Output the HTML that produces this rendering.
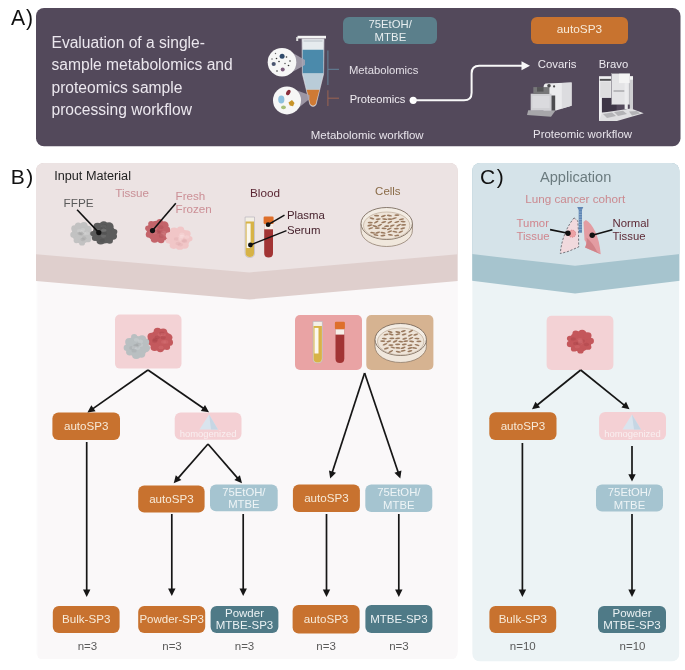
<!DOCTYPE html>
<html><head><meta charset="utf-8"><style>
html,body{margin:0;padding:0;background:#fff;width:685px;height:670px;overflow:hidden}
svg{display:block;will-change:transform}
text{font-family:"Liberation Sans", sans-serif}
</style></head><body>
<svg width="685" height="670" viewBox="0 0 685 670">
<rect x="36" y="8" width="644.50" height="138.30" rx="8" fill="#53495b" />
<text x="11" y="24.8" font-size="21.2" fill="#111" text-anchor="start" >A</text>
<text x="26" y="24.8" font-size="21.2" fill="#111" text-anchor="start" >)</text>
<text x="51.5" y="47.9" font-size="15.6" fill="#ebe7ee" text-anchor="start" >Evaluation of a single-</text>
<text x="51.5" y="70.3" font-size="15.6" fill="#ebe7ee" text-anchor="start" >sample metabolomics and</text>
<text x="51.5" y="92.8" font-size="15.6" fill="#ebe7ee" text-anchor="start" >proteomics sample</text>
<text x="51.5" y="115.2" font-size="15.6" fill="#ebe7ee" text-anchor="start" >processing workflow</text>
<rect x="343" y="17" width="94.00" height="27.00" rx="6" fill="#5b7f8b" />
<text x="368.5" y="27.8" font-size="11.3" fill="#e8eef0" text-anchor="start" >75EtOH/</text>
<text x="374.6" y="41" font-size="11.4" fill="#e8eef0" text-anchor="start" >MTBE</text>
<rect x="531" y="17" width="97.00" height="27.00" rx="6" fill="#c8732f" />
<text x="556.8" y="32.9" font-size="11.8" fill="#f7ead8" text-anchor="start" >autoSP3</text>
<path d="M302,39 L324,39 L323.6,74 L316,104.8 Q313,108 310,104.8 L302.4,74 Z" fill="#e6ebee" stroke="#c9c5cf" stroke-width="0.7"/>
<path d="M297.5,38.5 L297.5,35.8 L326,35.8 L326,38.5 Z" fill="#f4f4f4"/>
<rect x="296.2" y="37" width="2" height="4" fill="#d9d9d9"/>
<rect x="303.5" y="40" width="19" height="2" fill="#cfd5da"/>
<path d="M302.6,49.7 L323.4,49.7 L323.3,73.6 L302.8,73.6 Z" fill="#4b8aab"/>
<path d="M302.8,73.6 L323.3,73.6 L319.4,89.7 L306.7,89.7 Z" fill="#b9ccd8"/>
<path d="M306.7,89.7 L319.4,89.7 L315.7,104.3 Q313,107 310.3,104.3 Z" fill="#cf7a34"/>
<path d="M285,48.5 L305,60 L305,65 L285,76 Z" fill="#a9a3b2" opacity="0.85"/>
<circle cx="282" cy="62.2" r="14.3" fill="#f6f6f6"/>
<circle cx="282.1" cy="56.3" r="2.5" fill="#2f4a6b"/>
<circle cx="273.7" cy="64" r="2.1" fill="#4a5570"/>
<circle cx="282.7" cy="69.4" r="2" fill="#7b5b7b"/>
<circle cx="276.5" cy="58.5" r="0.8" fill="#333"/>
<circle cx="286.5" cy="57" r="0.8" fill="#333"/>
<circle cx="290" cy="61" r="0.8" fill="#333"/>
<circle cx="279" cy="61.5" r="0.8" fill="#333"/>
<circle cx="288.5" cy="65.5" r="0.8" fill="#333"/>
<circle cx="277" cy="71" r="0.8" fill="#333"/>
<circle cx="272" cy="59" r="0.7" fill="#555"/>
<circle cx="285" cy="63.5" r="0.7" fill="#444"/>
<circle cx="275.5" cy="53.5" r="0.7" fill="#666"/>
<path d="M290,88 L309.5,95 L309.5,99 L292,113 Z" fill="#a9a3b2" opacity="0.85"/>
<circle cx="287" cy="100.4" r="14" fill="#f6f6f6"/>
<ellipse cx="281.3" cy="99.5" rx="3.1" ry="4" fill="#8cc0de"/>
<ellipse cx="288.3" cy="92.5" rx="1.9" ry="3" fill="#8a2f3c" transform="rotate(30 288.3 92.5)"/>
<path d="M288.5,102.5 l3.5,-2.5 l2.5,3 l-1.5,3.2 l-3.2,-0.8 Z" fill="#c8942a"/>
<ellipse cx="283.5" cy="107.3" rx="2.4" ry="1.9" fill="#a6bf78"/>
<line x1="327.9" y1="50.5" x2="327.9" y2="85" stroke="#63849a" stroke-width="1.0" />
<line x1="327.9" y1="69.3" x2="339" y2="69.3" stroke="#63849a" stroke-width="1.0" />
<line x1="327.9" y1="90.3" x2="327.9" y2="106" stroke="#9d6552" stroke-width="1.0" />
<line x1="327.9" y1="98.2" x2="339" y2="98.2" stroke="#9d6552" stroke-width="1.0" />
<text x="348.9" y="74" font-size="11.27" fill="#e3dfe6" text-anchor="start" >Metabolomics</text>
<text x="349.7" y="102.9" font-size="11.14" fill="#f0edf2" text-anchor="start" >Proteomics</text>
<circle cx="413.2" cy="100.3" r="3.6" fill="#ffffff"/>
<path d="M413,100.3 L464,100.3 Q471.6,100.3 471.6,92.7 L471.6,73.4 Q471.6,65.8 479.2,65.8 L523,65.8" fill="none" stroke="#f8f8f8" stroke-width="2"/>
<path d="M530,65.8 L521.5,61.3 L521.5,70.3 Z" fill="#f8f8f8"/>
<text x="537.8" y="67.9" font-size="11.38" fill="#ece9ef" text-anchor="start" >Covaris</text>
<text x="598.8" y="68" font-size="11.25" fill="#ece9ef" text-anchor="start" >Bravo</text>
<text x="310.8" y="138.6" font-size="11.48" fill="#e8e4eb" text-anchor="start" >Metabolomic workflow</text>
<text x="533.1" y="138.4" font-size="11.41" fill="#e8e4eb" text-anchor="start" >Proteomic workflow</text>
<path d="M528.2,110.3 L555.5,110.5 L551,116.8 L527,115 Z" fill="#a7a6aa"/>
<path d="M545.5,83.5 Q543.5,84 543.5,87 L543.5,110.5 L556,110.5 L571.6,105.7 L571.6,82.4 Z" fill="#ebebed"/>
<path d="M561.8,83 L571.6,82.4 L571.6,105.7 L561.8,108.5 Z" fill="#dcdcdf"/>
<rect x="530.7" y="93.7" width="20.8" height="16.8" fill="#d0d0d4"/>
<rect x="532.5" y="96" width="17" height="12" fill="#dcdce0" opacity="0.8"/>
<rect x="533.3" y="87.1" width="16.1" height="6.9" fill="#777779"/>
<rect x="537" y="87.1" width="6.5" height="4.5" fill="#555557"/>
<rect x="551.5" y="95.5" width="3.7" height="15" fill="#4d4d50"/>
<circle cx="549" cy="85.7" r="1.8" fill="#4a4a4c"/><circle cx="554.1" cy="86.4" r="1.1" fill="#4a4a4c"/>
<rect x="599" y="76.2" width="12.3" height="44.7" fill="#efeff1"/>
<rect x="599.8" y="78.9" width="11.1" height="1.9" fill="#505052"/>
<rect x="600.2" y="81.5" width="10.5" height="16" fill="#dededf"/>
<rect x="601.9" y="97.9" width="14.7" height="14.8" fill="#3e3646"/>
<rect x="611.7" y="73.7" width="18.1" height="30.8" fill="#e4e4e6" stroke="#a9a9ad" stroke-width="0.4"/>
<rect x="619.1" y="73.7" width="10.7" height="9.4" fill="#f4f4f4"/>
<rect x="613.5" y="90.6" width="11" height="0.8" fill="#77777a"/>
<rect x="624.6" y="83" width="3.2" height="26" fill="#ececee"/>
<rect x="629.8" y="76.6" width="3.2" height="39.4" fill="#cfcfd2"/>
<rect x="629.8" y="76.2" width="3.2" height="3.5" fill="#f4f4f4"/>
<path d="M601.9,112.7 L631,108.6 L643.7,113.3 L617,120.9 L599,120.9 Z" fill="#dfdfe1"/>
<path d="M603,114 L612,112.5 L616,116 L607,118 Z" fill="#b3b3b6"/>
<path d="M614,112 L623,110.8 L627,114 L618,116 Z" fill="#b3b3b6"/>
<path d="M629,111.5 L637,111 L640,113.5 L632,115.5 Z" fill="#b3b3b6"/>
<clipPath id="cpB"><rect x="36" y="163" width="421.8" height="497" rx="8"/></clipPath>
<g clip-path="url(#cpB)">
<rect x="36" y="163" width="421.8" height="496" fill="#fdfdfd"/>
<rect x="37.5" y="163" width="420.3" height="496" fill="#faf8f9"/>
<path d="M36,163 L457.8,163 L457.8,281 L249.5,299.5 L36,281 Z" fill="#dfcfcd"/>
<path d="M36,163 L457.8,163 L457.8,254.2 L249.5,272.4 L36,254.2 Z" fill="#ece3e3"/>
</g>
<text x="10.7" y="183.8" font-size="21" fill="#111" text-anchor="start" >B</text>
<text x="26.3" y="183.8" font-size="21" fill="#111" text-anchor="start" >)</text>
<text x="54.2" y="180" font-size="12.68" fill="#222" text-anchor="start" >Input Material</text>
<text x="63.6" y="206.9" font-size="11.76" fill="#5a5a5a" text-anchor="start" >FFPE</text>
<text x="115.3" y="196.5" font-size="11.58" fill="#c98f96" text-anchor="start" >Tissue</text>
<text x="175.6" y="200" font-size="11.63" fill="#cc8f96" text-anchor="start" >Fresh</text>
<text x="175.6" y="212.9" font-size="11.63" fill="#cc8f96" text-anchor="start" >Frozen</text>
<text x="250" y="196.8" font-size="11.74" fill="#5b2633" text-anchor="start" >Blood</text>
<text x="286.9" y="219.2" font-size="11.39" fill="#47222d" text-anchor="start" >Plasma</text>
<text x="286.9" y="233.9" font-size="11.39" fill="#47222d" text-anchor="start" >Serum</text>
<text x="375.1" y="195.3" font-size="11.47" fill="#8a6b47" text-anchor="start" >Cells</text>
<g fill="#c2c2c2"><ellipse cx="81.50" cy="233.50" rx="9.66" ry="10.08"/><ellipse cx="82.04" cy="242.38" rx="3.04" ry="3.17"/><ellipse cx="76.27" cy="240.55" rx="2.62" ry="2.73"/><ellipse cx="73.17" cy="234.81" rx="2.89" ry="3.01"/><ellipse cx="74.42" cy="228.49" rx="3.18" ry="3.32"/><ellipse cx="78.21" cy="226.07" rx="3.41" ry="3.56"/><ellipse cx="83.90" cy="225.77" rx="3.73" ry="3.89"/><ellipse cx="88.19" cy="229.43" rx="3.46" ry="3.61"/><ellipse cx="89.39" cy="234.96" rx="3.35" ry="3.49"/><ellipse cx="87.65" cy="238.43" rx="3.72" ry="3.89"/></g>
<ellipse cx="84.13" cy="238.13" rx="2.30" ry="1.80" fill="#9a9a9a" opacity="0.3"/>
<ellipse cx="79.13" cy="230.70" rx="2.30" ry="1.80" fill="#dedede" opacity="0.3"/>
<ellipse cx="82.76" cy="239.54" rx="2.30" ry="1.80" fill="#9a9a9a" opacity="0.3"/>
<ellipse cx="82.85" cy="229.76" rx="2.30" ry="1.80" fill="#dedede" opacity="0.3"/>
<ellipse cx="79.74" cy="233.44" rx="2.30" ry="1.80" fill="#9a9a9a" opacity="0.3"/>
<ellipse cx="84.27" cy="233.56" rx="2.30" ry="1.80" fill="#dedede" opacity="0.3"/>
<ellipse cx="81.05" cy="233.22" rx="2.30" ry="1.80" fill="#9a9a9a" opacity="0.3"/>
<ellipse cx="81.97" cy="231.76" rx="2.30" ry="1.80" fill="#dedede" opacity="0.3"/>
<ellipse cx="81.53" cy="233.83" rx="2.30" ry="1.80" fill="#9a9a9a" opacity="0.3"/>
<ellipse cx="87.02" cy="233.39" rx="2.30" ry="1.80" fill="#dedede" opacity="0.3"/>
<g fill="#5c5c5c"><ellipse cx="104.00" cy="233.20" rx="11.34" ry="10.25"/><ellipse cx="97.61" cy="226.72" rx="4.26" ry="3.85"/><ellipse cx="103.74" cy="225.38" rx="4.46" ry="4.03"/><ellipse cx="109.04" cy="226.33" rx="4.50" ry="4.07"/><ellipse cx="114.20" cy="231.74" rx="3.15" ry="2.85"/><ellipse cx="113.14" cy="236.17" rx="3.85" ry="3.48"/><ellipse cx="109.63" cy="240.67" rx="3.32" ry="3.00"/><ellipse cx="100.73" cy="240.79" rx="4.21" ry="3.81"/><ellipse cx="95.06" cy="238.01" rx="3.19" ry="2.89"/><ellipse cx="93.18" cy="233.59" rx="2.97" ry="2.69"/></g>
<ellipse cx="97.72" cy="231.42" rx="2.70" ry="1.83" fill="#444" opacity="0.3"/>
<ellipse cx="103.85" cy="226.34" rx="2.70" ry="1.83" fill="#8a8a8a" opacity="0.3"/>
<ellipse cx="102.11" cy="240.66" rx="2.70" ry="1.83" fill="#444" opacity="0.3"/>
<ellipse cx="98.01" cy="230.80" rx="2.70" ry="1.83" fill="#8a8a8a" opacity="0.3"/>
<ellipse cx="104.23" cy="225.83" rx="2.70" ry="1.83" fill="#444" opacity="0.3"/>
<ellipse cx="103.52" cy="236.07" rx="2.70" ry="1.83" fill="#8a8a8a" opacity="0.3"/>
<ellipse cx="102.94" cy="228.66" rx="2.70" ry="1.83" fill="#444" opacity="0.3"/>
<ellipse cx="104.00" cy="230.31" rx="2.70" ry="1.83" fill="#8a8a8a" opacity="0.3"/>
<ellipse cx="104.09" cy="233.17" rx="2.70" ry="1.83" fill="#444" opacity="0.3"/>
<ellipse cx="103.41" cy="230.28" rx="2.70" ry="1.83" fill="#8a8a8a" opacity="0.3"/>
<line x1="77.1" y1="209.8" x2="98.8" y2="232.6" stroke="#111" stroke-width="1.6" />
<circle cx="98.8" cy="232.6" r="2.6" fill="#111"/>
<g fill="#c4646a"><ellipse cx="157.70" cy="231.00" rx="10.92" ry="10.50"/><ellipse cx="154.62" cy="238.92" rx="3.88" ry="3.73"/><ellipse cx="149.20" cy="234.45" rx="3.43" ry="3.30"/><ellipse cx="148.09" cy="228.24" rx="2.92" ry="2.81"/><ellipse cx="151.20" cy="223.77" rx="3.00" ry="2.89"/><ellipse cx="159.75" cy="221.85" rx="3.05" ry="2.94"/><ellipse cx="164.25" cy="225.47" rx="4.34" ry="4.17"/><ellipse cx="165.93" cy="230.27" rx="4.38" ry="4.21"/><ellipse cx="164.62" cy="237.13" rx="3.31" ry="3.18"/><ellipse cx="161.10" cy="239.95" rx="3.34" ry="3.21"/></g>
<ellipse cx="160.89" cy="232.37" rx="2.60" ry="1.88" fill="#a44a50" opacity="0.3"/>
<ellipse cx="162.59" cy="234.91" rx="2.60" ry="1.88" fill="#d98a8e" opacity="0.3"/>
<ellipse cx="157.28" cy="230.97" rx="2.60" ry="1.88" fill="#a44a50" opacity="0.3"/>
<ellipse cx="163.67" cy="232.66" rx="2.60" ry="1.88" fill="#d98a8e" opacity="0.3"/>
<ellipse cx="161.21" cy="235.92" rx="2.60" ry="1.88" fill="#a44a50" opacity="0.3"/>
<ellipse cx="154.79" cy="228.01" rx="2.60" ry="1.88" fill="#d98a8e" opacity="0.3"/>
<ellipse cx="160.83" cy="227.14" rx="2.60" ry="1.88" fill="#a44a50" opacity="0.3"/>
<ellipse cx="154.67" cy="229.56" rx="2.60" ry="1.88" fill="#d98a8e" opacity="0.3"/>
<ellipse cx="157.71" cy="232.12" rx="2.60" ry="1.88" fill="#a44a50" opacity="0.3"/>
<ellipse cx="154.89" cy="232.42" rx="2.60" ry="1.88" fill="#d98a8e" opacity="0.3"/>
<g fill="#f1c6c7"><ellipse cx="179.00" cy="238.30" rx="11.34" ry="9.91"/><ellipse cx="168.79" cy="240.79" rx="3.19" ry="2.79"/><ellipse cx="169.46" cy="235.57" rx="3.78" ry="3.31"/><ellipse cx="174.05" cy="230.98" rx="3.87" ry="3.38"/><ellipse cx="180.53" cy="229.59" rx="3.58" ry="3.13"/><ellipse cx="186.51" cy="233.84" rx="4.14" ry="3.62"/><ellipse cx="189.35" cy="238.63" rx="3.15" ry="2.75"/><ellipse cx="184.77" cy="245.22" rx="3.93" ry="3.43"/><ellipse cx="179.85" cy="246.13" rx="4.18" ry="3.65"/><ellipse cx="173.76" cy="245.35" rx="4.06" ry="3.55"/></g>
<ellipse cx="176.57" cy="239.07" rx="2.70" ry="1.77" fill="#dba7aa" opacity="0.3"/>
<ellipse cx="182.57" cy="236.29" rx="2.70" ry="1.77" fill="#fbe6e6" opacity="0.3"/>
<ellipse cx="184.62" cy="241.29" rx="2.70" ry="1.77" fill="#dba7aa" opacity="0.3"/>
<ellipse cx="180.58" cy="239.01" rx="2.70" ry="1.77" fill="#fbe6e6" opacity="0.3"/>
<ellipse cx="183.93" cy="240.46" rx="2.70" ry="1.77" fill="#dba7aa" opacity="0.3"/>
<ellipse cx="181.93" cy="234.38" rx="2.70" ry="1.77" fill="#fbe6e6" opacity="0.3"/>
<ellipse cx="180.28" cy="244.68" rx="2.70" ry="1.77" fill="#dba7aa" opacity="0.3"/>
<ellipse cx="180.99" cy="236.48" rx="2.70" ry="1.77" fill="#fbe6e6" opacity="0.3"/>
<ellipse cx="178.13" cy="243.41" rx="2.70" ry="1.77" fill="#dba7aa" opacity="0.3"/>
<ellipse cx="186.89" cy="237.09" rx="2.70" ry="1.77" fill="#fbe6e6" opacity="0.3"/>
<line x1="175.8" y1="203.3" x2="152.5" y2="230.6" stroke="#111" stroke-width="1.6" />
<circle cx="152.5" cy="230.6" r="2.6" fill="#111"/>
<path d="M245.1,217 L254.5,217 L254.5,253.0 Q254.5,257.5 249.80,257.5 Q245.1,257.5 245.1,253.0 Z" fill="#f3efe6" stroke="#b9b5bd" stroke-width="0.7"/>
<path d="M245.6,221.5 L254.0,221.5 L254.0,253.0 Q254.0,257.0 249.80,257.0 Q245.6,257.0 245.6,253.0 Z" fill="#d7b347"/>
<rect x="246.6" y="223.5" width="4" height="24.5" fill="#fbf8ef"/>
<path d="M264.2,224.0 L272.99999999999994,224.0 L272.99999999999994,253.0 Q272.99999999999994,257.5 268.60,257.5 Q264.2,257.5 264.2,253.0 Z" fill="#a23434"/>
<rect x="263.59999999999997" y="216.5" width="10.0" height="7.5" rx="1.2" fill="#de6f2b"/>
<rect x="264.2" y="224.0" width="8.8" height="5.3" fill="#f6efe8"/>
<line x1="268.1" y1="224.7" x2="284.5" y2="215.2" stroke="#111" stroke-width="1.5" />
<circle cx="268.1" cy="224.7" r="2.4" fill="#111"/>
<line x1="250.4" y1="245" x2="286.5" y2="230.6" stroke="#111" stroke-width="1.5" />
<circle cx="250.4" cy="245" r="2.4" fill="#111"/>
<path d="M361.00,223.50 L361.00,230.50 A25.70,16.00 0 0 0 412.40,230.50 L412.40,223.50 Z" fill="#f0e7dc" stroke="#857262" stroke-width="0.7"/>
<ellipse cx="386.7" cy="223.5" rx="25.70" ry="16.00" fill="#f3ece3" stroke="#6f5e50" stroke-width="0.8"/>
<ellipse cx="386.7" cy="225.50" rx="23.20" ry="13.50" fill="#eee4d8" stroke="#a8927c" stroke-width="0.5"/>
<ellipse cx="376.58" cy="215.68" rx="2.60" ry="0.85" fill="#9a7a5f" transform="rotate(-1 376.58 215.60)"/>
<ellipse cx="383.26" cy="216.10" rx="2.60" ry="0.85" fill="#9a7a5f" transform="rotate(-18 383.26 215.60)"/>
<ellipse cx="389.41" cy="215.62" rx="2.60" ry="0.85" fill="#9a7a5f" transform="rotate(10 389.41 215.60)"/>
<ellipse cx="396.95" cy="215.16" rx="2.60" ry="0.85" fill="#9a7a5f" transform="rotate(-2 396.95 215.60)"/>
<ellipse cx="371.73" cy="218.33" rx="2.60" ry="0.85" fill="#9a7a5f" transform="rotate(14 371.73 218.90)"/>
<ellipse cx="378.22" cy="219.03" rx="2.60" ry="0.85" fill="#9a7a5f" transform="rotate(-5 378.22 218.90)"/>
<ellipse cx="384.71" cy="219.12" rx="2.60" ry="0.85" fill="#9a7a5f" transform="rotate(9 384.71 218.90)"/>
<ellipse cx="389.92" cy="219.07" rx="2.60" ry="0.85" fill="#9a7a5f" transform="rotate(3 389.92 218.90)"/>
<ellipse cx="394.57" cy="218.25" rx="2.60" ry="0.85" fill="#9a7a5f" transform="rotate(-15 394.57 218.90)"/>
<ellipse cx="401.48" cy="219.29" rx="2.60" ry="0.85" fill="#9a7a5f" transform="rotate(-10 401.48 218.90)"/>
<ellipse cx="370.28" cy="222.68" rx="2.60" ry="0.85" fill="#9a7a5f" transform="rotate(3 370.28 222.20)"/>
<ellipse cx="376.39" cy="221.91" rx="2.60" ry="0.85" fill="#9a7a5f" transform="rotate(-30 376.39 222.20)"/>
<ellipse cx="383.77" cy="222.14" rx="2.60" ry="0.85" fill="#9a7a5f" transform="rotate(-13 383.77 222.20)"/>
<ellipse cx="389.77" cy="222.27" rx="2.60" ry="0.85" fill="#9a7a5f" transform="rotate(-25 389.77 222.20)"/>
<ellipse cx="396.89" cy="221.94" rx="2.60" ry="0.85" fill="#9a7a5f" transform="rotate(-16 396.89 222.20)"/>
<ellipse cx="403.02" cy="221.54" rx="2.60" ry="0.85" fill="#9a7a5f" transform="rotate(6 403.02 222.20)"/>
<ellipse cx="369.92" cy="225.36" rx="2.60" ry="0.85" fill="#9a7a5f" transform="rotate(-12 369.92 225.50)"/>
<ellipse cx="374.93" cy="226.14" rx="2.60" ry="0.85" fill="#9a7a5f" transform="rotate(13 374.93 225.50)"/>
<ellipse cx="379.93" cy="225.09" rx="2.60" ry="0.85" fill="#9a7a5f" transform="rotate(-27 379.93 225.50)"/>
<ellipse cx="386.64" cy="226.17" rx="2.60" ry="0.85" fill="#9a7a5f" transform="rotate(-5 386.64 225.50)"/>
<ellipse cx="392.31" cy="225.59" rx="2.60" ry="0.85" fill="#9a7a5f" transform="rotate(-18 392.31 225.50)"/>
<ellipse cx="398.80" cy="225.18" rx="2.60" ry="0.85" fill="#9a7a5f" transform="rotate(-25 398.80 225.50)"/>
<ellipse cx="403.64" cy="224.82" rx="2.60" ry="0.85" fill="#9a7a5f" transform="rotate(-4 403.64 225.50)"/>
<ellipse cx="370.92" cy="228.27" rx="2.60" ry="0.85" fill="#9a7a5f" transform="rotate(-15 370.92 228.80)"/>
<ellipse cx="377.33" cy="228.12" rx="2.60" ry="0.85" fill="#9a7a5f" transform="rotate(-1 377.33 228.80)"/>
<ellipse cx="384.03" cy="228.35" rx="2.60" ry="0.85" fill="#9a7a5f" transform="rotate(5 384.03 228.80)"/>
<ellipse cx="389.34" cy="228.81" rx="2.60" ry="0.85" fill="#9a7a5f" transform="rotate(-22 389.34 228.80)"/>
<ellipse cx="396.32" cy="228.64" rx="2.60" ry="0.85" fill="#9a7a5f" transform="rotate(-5 396.32 228.80)"/>
<ellipse cx="402.84" cy="228.40" rx="2.60" ry="0.85" fill="#9a7a5f" transform="rotate(-13 402.84 228.80)"/>
<ellipse cx="372.85" cy="232.76" rx="2.60" ry="0.85" fill="#9a7a5f" transform="rotate(7 372.85 232.10)"/>
<ellipse cx="377.56" cy="232.64" rx="2.60" ry="0.85" fill="#9a7a5f" transform="rotate(-17 377.56 232.10)"/>
<ellipse cx="383.16" cy="232.79" rx="2.60" ry="0.85" fill="#9a7a5f" transform="rotate(8 383.16 232.10)"/>
<ellipse cx="389.90" cy="231.54" rx="2.60" ry="0.85" fill="#9a7a5f" transform="rotate(-21 389.90 232.10)"/>
<ellipse cx="394.87" cy="231.76" rx="2.60" ry="0.85" fill="#9a7a5f" transform="rotate(9 394.87 232.10)"/>
<ellipse cx="400.94" cy="231.81" rx="2.60" ry="0.85" fill="#9a7a5f" transform="rotate(-26 400.94 232.10)"/>
<ellipse cx="375.83" cy="234.99" rx="2.60" ry="0.85" fill="#9a7a5f" transform="rotate(10 375.83 235.40)"/>
<ellipse cx="382.85" cy="235.54" rx="2.60" ry="0.85" fill="#9a7a5f" transform="rotate(-7 382.85 235.40)"/>
<ellipse cx="390.28" cy="234.88" rx="2.60" ry="0.85" fill="#9a7a5f" transform="rotate(7 390.28 235.40)"/>
<ellipse cx="396.69" cy="235.50" rx="2.60" ry="0.85" fill="#9a7a5f" transform="rotate(-6 396.69 235.40)"/>
<rect x="115" y="314.6" width="66.50" height="54.00" rx="5" fill="#f3d2d5" />
<g fill="#c4595d"><ellipse cx="160.00" cy="340.20" rx="11.17" ry="10.42"/><ellipse cx="168.12" cy="337.52" rx="4.35" ry="4.06"/><ellipse cx="169.42" cy="342.45" rx="3.60" ry="3.36"/><ellipse cx="166.91" cy="346.97" rx="3.23" ry="3.01"/><ellipse cx="160.33" cy="348.84" rx="3.65" ry="3.41"/><ellipse cx="154.65" cy="347.15" rx="4.06" ry="3.78"/><ellipse cx="150.98" cy="341.23" rx="4.10" ry="3.82"/><ellipse cx="151.68" cy="336.55" rx="4.18" ry="3.89"/><ellipse cx="157.56" cy="331.39" rx="3.92" ry="3.65"/><ellipse cx="163.16" cy="332.29" rx="4.14" ry="3.86"/></g>
<ellipse cx="155.27" cy="339.70" rx="2.66" ry="1.86" fill="#a03d43" opacity="0.3"/>
<ellipse cx="161.00" cy="347.39" rx="2.66" ry="1.86" fill="#d9787c" opacity="0.3"/>
<ellipse cx="157.29" cy="337.27" rx="2.66" ry="1.86" fill="#a03d43" opacity="0.3"/>
<ellipse cx="160.16" cy="334.55" rx="2.66" ry="1.86" fill="#d9787c" opacity="0.3"/>
<ellipse cx="163.16" cy="337.59" rx="2.66" ry="1.86" fill="#a03d43" opacity="0.3"/>
<ellipse cx="165.85" cy="341.94" rx="2.66" ry="1.86" fill="#d9787c" opacity="0.3"/>
<ellipse cx="154.68" cy="340.88" rx="2.66" ry="1.86" fill="#a03d43" opacity="0.3"/>
<ellipse cx="163.65" cy="341.93" rx="2.66" ry="1.86" fill="#d9787c" opacity="0.3"/>
<ellipse cx="161.90" cy="333.24" rx="2.66" ry="1.86" fill="#a03d43" opacity="0.3"/>
<ellipse cx="163.26" cy="334.69" rx="2.66" ry="1.86" fill="#d9787c" opacity="0.3"/>
<g fill="#b9bfc1"><ellipse cx="137.00" cy="346.30" rx="11.26" ry="10.42"/><ellipse cx="141.33" cy="354.04" rx="3.97" ry="3.67"/><ellipse cx="136.27" cy="355.00" rx="4.22" ry="3.91"/><ellipse cx="129.82" cy="351.96" rx="3.76" ry="3.48"/><ellipse cx="127.20" cy="347.77" rx="3.54" ry="3.28"/><ellipse cx="129.40" cy="341.91" rx="4.22" ry="3.91"/><ellipse cx="134.16" cy="336.67" rx="3.02" ry="2.79"/><ellipse cx="142.04" cy="339.24" rx="4.36" ry="4.03"/><ellipse cx="145.71" cy="341.90" rx="3.48" ry="3.22"/><ellipse cx="145.60" cy="348.10" rx="4.48" ry="4.14"/></g>
<ellipse cx="135.98" cy="345.57" rx="2.68" ry="1.86" fill="#9aa0a2" opacity="0.3"/>
<ellipse cx="140.60" cy="345.09" rx="2.68" ry="1.86" fill="#d8dcdd" opacity="0.3"/>
<ellipse cx="131.83" cy="347.91" rx="2.68" ry="1.86" fill="#9aa0a2" opacity="0.3"/>
<ellipse cx="136.40" cy="339.86" rx="2.68" ry="1.86" fill="#d8dcdd" opacity="0.3"/>
<ellipse cx="138.55" cy="344.24" rx="2.68" ry="1.86" fill="#9aa0a2" opacity="0.3"/>
<ellipse cx="140.45" cy="341.48" rx="2.68" ry="1.86" fill="#d8dcdd" opacity="0.3"/>
<ellipse cx="136.42" cy="346.42" rx="2.68" ry="1.86" fill="#9aa0a2" opacity="0.3"/>
<ellipse cx="134.35" cy="347.66" rx="2.68" ry="1.86" fill="#d8dcdd" opacity="0.3"/>
<ellipse cx="134.09" cy="350.66" rx="2.68" ry="1.86" fill="#9aa0a2" opacity="0.3"/>
<ellipse cx="137.64" cy="348.12" rx="2.68" ry="1.86" fill="#d8dcdd" opacity="0.3"/>
<rect x="295" y="315" width="67.00" height="55.00" rx="5" fill="#e9a3a4" />
<path d="M313,321.4 L322.4,321.4 L322.4,358.5 Q322.4,363 317.70,363 Q313,363 313,358.5 Z" fill="#f3efe6" stroke="#b9b5bd" stroke-width="0.7"/>
<path d="M313.5,325.9 L321.9,325.9 L321.9,358.5 Q321.9,362.5 317.70,362.5 Q313.5,362.5 313.5,358.5 Z" fill="#d7b347"/>
<rect x="314.5" y="327.9" width="4" height="25.600000000000023" fill="#fbf8ef"/>
<path d="M335.5,329.3 L344.29999999999995,329.3 L344.29999999999995,358.5 Q344.29999999999995,363 339.90,363 Q335.5,363 335.5,358.5 Z" fill="#a23434"/>
<rect x="334.9" y="321.8" width="10.0" height="7.5" rx="1.2" fill="#de6f2b"/>
<rect x="335.5" y="329.3" width="8.8" height="5.3" fill="#f6efe8"/>
<rect x="366.3" y="315" width="67.10" height="55.00" rx="5" fill="#d6b391" />
<path d="M375.00,339.50 L375.00,346.50 A25.70,16.00 0 0 0 426.40,346.50 L426.40,339.50 Z" fill="#f0e7dc" stroke="#857262" stroke-width="0.7"/>
<ellipse cx="400.7" cy="339.5" rx="25.70" ry="16.00" fill="#f3ece3" stroke="#6f5e50" stroke-width="0.8"/>
<ellipse cx="400.7" cy="341.50" rx="23.20" ry="13.50" fill="#eee4d8" stroke="#a8927c" stroke-width="0.5"/>
<ellipse cx="390.20" cy="331.86" rx="2.60" ry="0.85" fill="#9a7a5f" transform="rotate(13 390.20 331.60)"/>
<ellipse cx="397.96" cy="332.15" rx="2.60" ry="0.85" fill="#9a7a5f" transform="rotate(11 397.96 331.60)"/>
<ellipse cx="403.50" cy="331.11" rx="2.60" ry="0.85" fill="#9a7a5f" transform="rotate(-16 403.50 331.60)"/>
<ellipse cx="411.00" cy="331.16" rx="2.60" ry="0.85" fill="#9a7a5f" transform="rotate(-26 411.00 331.60)"/>
<ellipse cx="386.18" cy="334.50" rx="2.60" ry="0.85" fill="#9a7a5f" transform="rotate(-12 386.18 334.90)"/>
<ellipse cx="391.01" cy="334.38" rx="2.60" ry="0.85" fill="#9a7a5f" transform="rotate(13 391.01 334.90)"/>
<ellipse cx="398.00" cy="334.22" rx="2.60" ry="0.85" fill="#9a7a5f" transform="rotate(-13 398.00 334.90)"/>
<ellipse cx="404.28" cy="334.32" rx="2.60" ry="0.85" fill="#9a7a5f" transform="rotate(-14 404.28 334.90)"/>
<ellipse cx="410.10" cy="335.24" rx="2.60" ry="0.85" fill="#9a7a5f" transform="rotate(-22 410.10 334.90)"/>
<ellipse cx="415.87" cy="334.56" rx="2.60" ry="0.85" fill="#9a7a5f" transform="rotate(-16 415.87 334.90)"/>
<ellipse cx="384.37" cy="338.56" rx="2.60" ry="0.85" fill="#9a7a5f" transform="rotate(6 384.37 338.20)"/>
<ellipse cx="391.88" cy="338.44" rx="2.60" ry="0.85" fill="#9a7a5f" transform="rotate(-3 391.88 338.20)"/>
<ellipse cx="397.72" cy="338.42" rx="2.60" ry="0.85" fill="#9a7a5f" transform="rotate(-8 397.72 338.20)"/>
<ellipse cx="404.60" cy="338.62" rx="2.60" ry="0.85" fill="#9a7a5f" transform="rotate(-14 404.60 338.20)"/>
<ellipse cx="410.86" cy="338.28" rx="2.60" ry="0.85" fill="#9a7a5f" transform="rotate(-22 410.86 338.20)"/>
<ellipse cx="416.88" cy="338.52" rx="2.60" ry="0.85" fill="#9a7a5f" transform="rotate(4 416.88 338.20)"/>
<ellipse cx="382.74" cy="341.08" rx="2.60" ry="0.85" fill="#9a7a5f" transform="rotate(3 382.74 341.50)"/>
<ellipse cx="388.87" cy="341.32" rx="2.60" ry="0.85" fill="#9a7a5f" transform="rotate(-14 388.87 341.50)"/>
<ellipse cx="395.14" cy="341.35" rx="2.60" ry="0.85" fill="#9a7a5f" transform="rotate(-22 395.14 341.50)"/>
<ellipse cx="400.85" cy="341.57" rx="2.60" ry="0.85" fill="#9a7a5f" transform="rotate(6 400.85 341.50)"/>
<ellipse cx="405.94" cy="341.07" rx="2.60" ry="0.85" fill="#9a7a5f" transform="rotate(-7 405.94 341.50)"/>
<ellipse cx="411.51" cy="341.40" rx="2.60" ry="0.85" fill="#9a7a5f" transform="rotate(10 411.51 341.50)"/>
<ellipse cx="418.92" cy="341.35" rx="2.60" ry="0.85" fill="#9a7a5f" transform="rotate(-3 418.92 341.50)"/>
<ellipse cx="385.27" cy="344.16" rx="2.60" ry="0.85" fill="#9a7a5f" transform="rotate(-21 385.27 344.80)"/>
<ellipse cx="390.92" cy="345.08" rx="2.60" ry="0.85" fill="#9a7a5f" transform="rotate(-2 390.92 344.80)"/>
<ellipse cx="397.72" cy="344.32" rx="2.60" ry="0.85" fill="#9a7a5f" transform="rotate(-4 397.72 344.80)"/>
<ellipse cx="404.43" cy="344.45" rx="2.60" ry="0.85" fill="#9a7a5f" transform="rotate(-8 404.43 344.80)"/>
<ellipse cx="409.89" cy="345.30" rx="2.60" ry="0.85" fill="#9a7a5f" transform="rotate(-7 409.89 344.80)"/>
<ellipse cx="417.04" cy="345.02" rx="2.60" ry="0.85" fill="#9a7a5f" transform="rotate(15 417.04 344.80)"/>
<ellipse cx="386.33" cy="348.41" rx="2.60" ry="0.85" fill="#9a7a5f" transform="rotate(-17 386.33 348.10)"/>
<ellipse cx="392.68" cy="347.46" rx="2.60" ry="0.85" fill="#9a7a5f" transform="rotate(14 392.68 348.10)"/>
<ellipse cx="397.97" cy="347.90" rx="2.60" ry="0.85" fill="#9a7a5f" transform="rotate(6 397.97 348.10)"/>
<ellipse cx="403.30" cy="347.81" rx="2.60" ry="0.85" fill="#9a7a5f" transform="rotate(-20 403.30 348.10)"/>
<ellipse cx="410.02" cy="348.18" rx="2.60" ry="0.85" fill="#9a7a5f" transform="rotate(-16 410.02 348.10)"/>
<ellipse cx="414.61" cy="348.00" rx="2.60" ry="0.85" fill="#9a7a5f" transform="rotate(8 414.61 348.10)"/>
<ellipse cx="390.79" cy="351.46" rx="2.60" ry="0.85" fill="#9a7a5f" transform="rotate(-28 390.79 351.40)"/>
<ellipse cx="398.30" cy="351.86" rx="2.60" ry="0.85" fill="#9a7a5f" transform="rotate(11 398.30 351.40)"/>
<ellipse cx="403.23" cy="350.70" rx="2.60" ry="0.85" fill="#9a7a5f" transform="rotate(-11 403.23 351.40)"/>
<ellipse cx="409.96" cy="351.12" rx="2.60" ry="0.85" fill="#9a7a5f" transform="rotate(-13 409.96 351.40)"/>
<rect x="52.4" y="412.4" width="67.60" height="27.60" rx="6" fill="#c8722f" />
<text x="86.20" y="430.19" font-size="11.6" fill="#f7ead8" text-anchor="middle" >autoSP3</text>
<rect x="174.7" y="412.4" width="66.80" height="27.30" rx="6" fill="#f4d0d4" />
<path d="M209.1,414.6 L218,429.5 L199.5,429.5 Z" fill="#d9e4ee"/>
<path d="M209.1,414.6 L218,429.5 L211,429.5 Z" fill="#c6d6e4"/>
<text x="208.1" y="436.8" font-size="9.45" fill="#f9eff0" text-anchor="middle" >homogenized</text>
<rect x="138.2" y="485.6" width="66.40" height="26.80" rx="6" fill="#c8722f" />
<text x="171.40" y="502.99" font-size="11.6" fill="#f7ead8" text-anchor="middle" >autoSP3</text>
<rect x="210" y="484.4" width="67.70" height="26.90" rx="6" fill="#a5c4d0" />
<text x="243.85" y="495.79" font-size="11.3" fill="#eef4f6" text-anchor="middle" >75EtOH/</text>
<text x="243.85" y="508.49" font-size="11.3" fill="#eef4f6" text-anchor="middle" >MTBE</text>
<rect x="292.9" y="484.5" width="67.00" height="27.50" rx="6" fill="#c8722f" />
<text x="326.40" y="502.24" font-size="11.6" fill="#f7ead8" text-anchor="middle" >autoSP3</text>
<rect x="365.3" y="484.5" width="67.00" height="27.50" rx="6" fill="#a5c4d0" />
<text x="398.80" y="496.19" font-size="11.3" fill="#eef4f6" text-anchor="middle" >75EtOH/</text>
<text x="398.80" y="508.89" font-size="11.3" fill="#eef4f6" text-anchor="middle" >MTBE</text>
<rect x="52.8" y="606" width="66.80" height="27.00" rx="6" fill="#c8722f" />
<text x="86.20" y="623.49" font-size="11.6" fill="#f7ead8" text-anchor="middle" >Bulk-SP3</text>
<rect x="138.2" y="606" width="67.00" height="27.00" rx="6" fill="#c8722f" />
<text x="171.70" y="623.46" font-size="11.5" fill="#f7ead8" text-anchor="middle" >Powder-SP3</text>
<rect x="210.6" y="606" width="67.80" height="27.00" rx="6" fill="#4f7a87" />
<text x="244.50" y="616.71" font-size="11.5" fill="#eaf1f3" text-anchor="middle" >Powder</text>
<text x="244.50" y="629.41" font-size="11.5" fill="#eaf1f3" text-anchor="middle" >MTBE-SP3</text>
<rect x="292.6" y="605" width="67.00" height="28.50" rx="6" fill="#c8722f" />
<text x="326.10" y="623.24" font-size="11.6" fill="#f7ead8" text-anchor="middle" >autoSP3</text>
<rect x="365.4" y="605" width="67.00" height="28.00" rx="6" fill="#4f7a87" />
<text x="398.90" y="622.96" font-size="11.5" fill="#eaf1f3" text-anchor="middle" >MTBE-SP3</text>
<text x="87.4" y="649.8" font-size="11.5" fill="#5a5a5a" text-anchor="middle" >n=3</text>
<text x="172" y="649.8" font-size="11.5" fill="#5a5a5a" text-anchor="middle" >n=3</text>
<text x="244.5" y="649.8" font-size="11.5" fill="#5a5a5a" text-anchor="middle" >n=3</text>
<text x="326.1" y="649.8" font-size="11.5" fill="#5a5a5a" text-anchor="middle" >n=3</text>
<text x="398.9" y="649.8" font-size="11.5" fill="#5a5a5a" text-anchor="middle" >n=3</text>
<line x1="148" y1="370" x2="92.64" y2="408.83" stroke="#161616" stroke-width="1.7"/>
<path d="M87.40,412.50 L91.33,405.22 L95.58,411.28Z" fill="#161616"/>
<line x1="148" y1="370" x2="203.74" y2="408.56" stroke="#161616" stroke-width="1.7"/>
<path d="M209.00,412.20 L200.81,411.03 L205.02,404.95Z" fill="#161616"/>
<line x1="86.7" y1="442" x2="86.70" y2="590.60" stroke="#161616" stroke-width="1.7"/>
<path d="M86.70,597.00 L83.00,589.60 L90.40,589.60Z" fill="#161616"/>
<line x1="208" y1="444" x2="177.91" y2="478.38" stroke="#161616" stroke-width="1.7"/>
<path d="M173.70,483.20 L175.79,475.19 L181.36,480.07Z" fill="#161616"/>
<line x1="208" y1="444" x2="237.81" y2="478.37" stroke="#161616" stroke-width="1.7"/>
<path d="M242.00,483.20 L234.36,480.03 L239.95,475.19Z" fill="#161616"/>
<line x1="171.8" y1="514" x2="171.80" y2="589.60" stroke="#161616" stroke-width="1.7"/>
<path d="M171.80,596.00 L168.10,588.60 L175.50,588.60Z" fill="#161616"/>
<line x1="243.2" y1="514" x2="243.20" y2="589.60" stroke="#161616" stroke-width="1.7"/>
<path d="M243.20,596.00 L239.50,588.60 L246.90,588.60Z" fill="#161616"/>
<line x1="364.6" y1="373" x2="332.18" y2="472.51" stroke="#161616" stroke-width="1.7"/>
<path d="M330.20,478.60 L328.97,470.42 L336.01,472.71Z" fill="#161616"/>
<line x1="364.6" y1="373" x2="398.25" y2="472.54" stroke="#161616" stroke-width="1.7"/>
<path d="M400.30,478.60 L394.42,472.77 L401.44,470.40Z" fill="#161616"/>
<line x1="326.5" y1="514" x2="326.50" y2="590.60" stroke="#161616" stroke-width="1.7"/>
<path d="M326.50,597.00 L322.80,589.60 L330.20,589.60Z" fill="#161616"/>
<line x1="398.8" y1="514" x2="398.80" y2="590.60" stroke="#161616" stroke-width="1.7"/>
<path d="M398.80,597.00 L395.10,589.60 L402.50,589.60Z" fill="#161616"/>
<clipPath id="cpC"><rect x="472.2" y="163" width="207.2" height="498.5" rx="8"/></clipPath>
<g clip-path="url(#cpC)">
<rect x="472.2" y="163" width="207.2" height="498.5" fill="#ecf3f5"/>
<path d="M472,163 L680,163 L680,280.8 L575.1,293.4 L472,280.8 Z" fill="#a6c4ce"/>
<path d="M472,163 L680,163 L680,254.1 L575.1,265.7 L472,254.1 Z" fill="#d5e3e9"/>
</g>
<text x="480" y="183.8" font-size="21" fill="#111" text-anchor="start" >C</text>
<text x="496.8" y="183.8" font-size="21" fill="#111" text-anchor="start" >)</text>
<text x="539.9" y="182.1" font-size="14.61" fill="#6b7b7f" text-anchor="start" >Application</text>
<text x="525.2" y="203.4" font-size="11.69" fill="#cb8a90" text-anchor="start" >Lung cancer cohort</text>
<text x="516.6" y="227" font-size="11.34" fill="#d0868e" text-anchor="start" >Tumor</text>
<text x="516.6" y="239.8" font-size="11.34" fill="#d0868e" text-anchor="start" >Tissue</text>
<text x="612.6" y="227" font-size="11.34" fill="#5e2a36" text-anchor="start" >Normal</text>
<text x="612.6" y="239.8" font-size="11.34" fill="#5e2a36" text-anchor="start" >Tissue</text>
<path d="M574.1,217.9 C568,225 561.5,238 560.3,253.6 L568,251.5 L578.7,247 L578.5,232 L577.8,221 Z" fill="#f1d9dd" stroke="#5a5a62" stroke-width="0.8" stroke-dasharray="2.2,1.6"/>
<path d="M585.9,219.9 C592.5,223.5 599.5,236 600.7,254.2 L592,250.5 L585,247.5 Q587.5,243 584.5,240 L583.5,222 Z" fill="#e39ca2"/>
<path d="M586.5,237.5 Q593,243 597,251.5 L600.7,254.2 L592,250.5 L585,247.5 Q587.5,243 586.5,237.5 Z" fill="#c9777e" opacity="0.7"/>
<path d="M577.2,207 L583.3,207 L582,209.8 L578.6,209.8 Z" fill="#5f86b4"/>
<rect x="578.7" y="209.5" width="3.3" height="23.2" fill="#5f86b4"/>
<line x1="578.9" y1="212" x2="581.8" y2="212" stroke="#98b4d4" stroke-width="0.7"/>
<line x1="578.9" y1="214.5" x2="581.8" y2="214.5" stroke="#98b4d4" stroke-width="0.7"/>
<line x1="578.9" y1="217" x2="581.8" y2="217" stroke="#98b4d4" stroke-width="0.7"/>
<line x1="578.9" y1="219.5" x2="581.8" y2="219.5" stroke="#98b4d4" stroke-width="0.7"/>
<line x1="578.9" y1="222" x2="581.8" y2="222" stroke="#98b4d4" stroke-width="0.7"/>
<line x1="578.9" y1="224.5" x2="581.8" y2="224.5" stroke="#98b4d4" stroke-width="0.7"/>
<line x1="578.9" y1="227" x2="581.8" y2="227" stroke="#98b4d4" stroke-width="0.7"/>
<line x1="578.9" y1="229.5" x2="581.8" y2="229.5" stroke="#98b4d4" stroke-width="0.7"/>
<circle cx="572.1" cy="233.7" r="3.6" fill="#eda2a4" stroke="#c96a70" stroke-width="0.6" stroke-dasharray="1.2,1"/>
<line x1="550.1" y1="229.6" x2="568" y2="233.2" stroke="#111" stroke-width="1.6" />
<circle cx="568" cy="233.2" r="2.7" fill="#111"/>
<line x1="592.2" y1="235.3" x2="612.4" y2="229.8" stroke="#111" stroke-width="1.6" />
<circle cx="592.2" cy="235.3" r="2.7" fill="#111"/>
<rect x="546.6" y="315.8" width="66.80" height="54.20" rx="5" fill="#f3d2d5" />
<g fill="#c4575b"><ellipse cx="580.30" cy="341.40" rx="11.34" ry="10.08"/><ellipse cx="590.33" cy="341.05" rx="3.61" ry="3.21"/><ellipse cx="588.26" cy="346.97" rx="3.15" ry="2.80"/><ellipse cx="580.51" cy="350.72" rx="3.21" ry="2.85"/><ellipse cx="574.05" cy="348.72" rx="3.19" ry="2.84"/><ellipse cx="570.46" cy="343.99" rx="3.64" ry="3.23"/><ellipse cx="569.94" cy="338.51" rx="3.00" ry="2.67"/><ellipse cx="575.69" cy="333.44" rx="3.29" ry="2.93"/><ellipse cx="582.13" cy="333.80" rx="4.52" ry="4.02"/><ellipse cx="587.62" cy="335.85" rx="3.92" ry="3.48"/></g>
<ellipse cx="582.30" cy="340.94" rx="2.70" ry="1.80" fill="#a03d43" opacity="0.3"/>
<ellipse cx="580.28" cy="343.35" rx="2.70" ry="1.80" fill="#d9787c" opacity="0.3"/>
<ellipse cx="579.03" cy="343.16" rx="2.70" ry="1.80" fill="#a03d43" opacity="0.3"/>
<ellipse cx="577.28" cy="346.77" rx="2.70" ry="1.80" fill="#d9787c" opacity="0.3"/>
<ellipse cx="575.75" cy="343.50" rx="2.70" ry="1.80" fill="#a03d43" opacity="0.3"/>
<ellipse cx="579.89" cy="339.79" rx="2.70" ry="1.80" fill="#d9787c" opacity="0.3"/>
<ellipse cx="586.43" cy="344.48" rx="2.70" ry="1.80" fill="#a03d43" opacity="0.3"/>
<ellipse cx="580.14" cy="342.01" rx="2.70" ry="1.80" fill="#d9787c" opacity="0.3"/>
<ellipse cx="573.30" cy="338.93" rx="2.70" ry="1.80" fill="#a03d43" opacity="0.3"/>
<ellipse cx="580.71" cy="340.99" rx="2.70" ry="1.80" fill="#d9787c" opacity="0.3"/>
<rect x="489.3" y="412.2" width="67.20" height="27.80" rx="6" fill="#c8722f" />
<text x="522.90" y="430.09" font-size="11.6" fill="#f7ead8" text-anchor="middle" >autoSP3</text>
<rect x="599.1" y="412" width="66.90" height="28.00" rx="6" fill="#f4d0d4" />
<path d="M632,414.5 L641,429.5 L622.5,429.5 Z" fill="#d9e4ee"/>
<path d="M632,414.5 L641,429.5 L634,429.5 Z" fill="#c6d6e4"/>
<text x="632.5" y="437" font-size="9.45" fill="#f9eff0" text-anchor="middle" >homogenized</text>
<rect x="596" y="484.5" width="67.00" height="27.00" rx="6" fill="#a5c4d0" />
<text x="629.50" y="495.94" font-size="11.3" fill="#eef4f6" text-anchor="middle" >75EtOH/</text>
<text x="629.50" y="508.64" font-size="11.3" fill="#eef4f6" text-anchor="middle" >MTBE</text>
<rect x="489.4" y="606" width="66.80" height="27.00" rx="6" fill="#c8722f" />
<text x="522.80" y="623.49" font-size="11.6" fill="#f7ead8" text-anchor="middle" >Bulk-SP3</text>
<rect x="598" y="606" width="68.00" height="27.00" rx="6" fill="#4f7a87" />
<text x="632.00" y="616.71" font-size="11.5" fill="#eaf1f3" text-anchor="middle" >Powder</text>
<text x="632.00" y="629.41" font-size="11.5" fill="#eaf1f3" text-anchor="middle" >MTBE-SP3</text>
<text x="522.8" y="649.6" font-size="11.5" fill="#5a5a5a" text-anchor="middle" >n=10</text>
<text x="632.5" y="649.6" font-size="11.5" fill="#5a5a5a" text-anchor="middle" >n=10</text>
<line x1="580.7" y1="370" x2="536.98" y2="405.28" stroke="#161616" stroke-width="1.7"/>
<path d="M532.00,409.30 L535.44,401.77 L540.08,407.53Z" fill="#161616"/>
<line x1="580.7" y1="370" x2="624.52" y2="405.29" stroke="#161616" stroke-width="1.7"/>
<path d="M629.50,409.30 L621.42,407.54 L626.06,401.78Z" fill="#161616"/>
<line x1="522.4" y1="443" x2="522.40" y2="590.60" stroke="#161616" stroke-width="1.7"/>
<path d="M522.40,597.00 L518.70,589.60 L526.10,589.60Z" fill="#161616"/>
<line x1="632" y1="446" x2="632.00" y2="475.20" stroke="#161616" stroke-width="1.7"/>
<path d="M632.00,481.60 L628.30,474.20 L635.70,474.20Z" fill="#161616"/>
<line x1="632" y1="514" x2="632.00" y2="590.60" stroke="#161616" stroke-width="1.7"/>
<path d="M632.00,597.00 L628.30,589.60 L635.70,589.60Z" fill="#161616"/>
</svg>
</body></html>
